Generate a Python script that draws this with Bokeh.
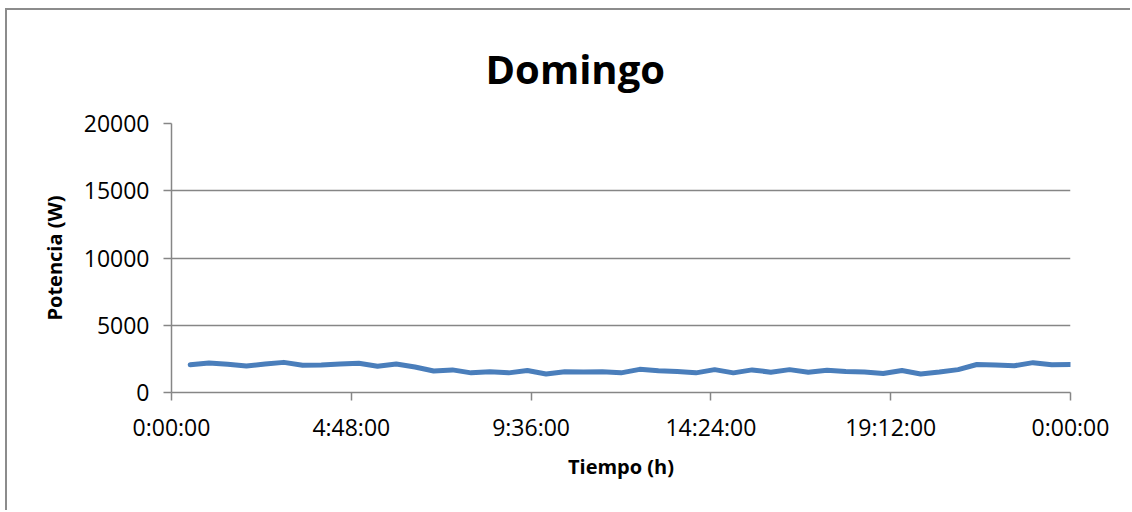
from bokeh.plotting import figure
from bokeh.models import FixedTicker, Range1d
from bokeh.embed import file_html
from bokeh.resources import INLINE

title_text = "Domingo"
x_label = "Tiempo (h)"
y_label = "Potencia (W)"

hours = [0.5, 1.0, 1.5, 2.0, 2.5, 3.0, 3.5, 4.0, 4.5, 5.0, 5.5, 6.0,
         6.5, 7.0, 7.5, 8.0, 8.5, 9.0, 9.5, 10.0, 10.5, 11.0, 11.5, 12.0,
         12.5, 13.0, 13.5, 14.0, 14.5, 15.0, 15.5, 16.0, 16.5, 17.0, 17.5, 18.0,
         18.5, 19.0, 19.5, 20.0, 20.5, 21.0, 21.5, 22.0, 22.5, 23.0, 23.5, 24.0]
power = [2070, 2200, 2100, 1970, 2120, 2240, 2030, 2050, 2120, 2170, 1950, 2120,
         1900, 1600, 1680, 1460, 1550, 1460, 1630, 1380, 1550, 1530, 1550, 1460,
         1720, 1620, 1560, 1460, 1700, 1460, 1680, 1510, 1700, 1510, 1650, 1560,
         1530, 1410, 1630, 1380, 1520, 1700, 2080, 2050, 1990, 2220, 2070, 2090]

x_ticks = [0, 4.8, 9.6, 14.4, 19.2, 24]
x_tick_labels = ["0:00:00", "4:48:00", "9:36:00", "14:24:00", "19:12:00", "0:00:00"]
y_ticks = [0, 5000, 10000, 15000, 20000]

FONT = "Open Sans"
GREY = "#868686"

p = figure(width=1125, height=502, output_backend="svg", toolbar_location=None,
           x_range=Range1d(0, 24), y_range=Range1d(0, 20000),
           min_border_left=164, min_border_right=62, min_border_top=112, min_border_bottom=120)
p.styles = {"border-left": "2px solid #8c8c8c", "border-top": "2px solid #8c8c8c",
            "margin-left": "5px", "margin-top": "8px"}
p.outline_line_color = None
p.background_fill_color = "white"
p.border_fill_color = "white"

p.title.text = title_text
p.title.align = "left"
p.title.offset = 314
p.title.text_font = FONT
p.title.text_font_size = "40px"
p.title.text_font_style = "bold"
p.title.text_color = "black"
p.title.standoff = 56

p.line(hours, power, line_color="#4a7ebb", line_width=5, line_join="round", line_cap="round")

p.xaxis.ticker = FixedTicker(ticks=x_ticks)
p.xaxis.major_label_overrides = {t: lab for t, lab in zip(x_ticks, x_tick_labels)}
p.yaxis.ticker = FixedTicker(ticks=y_ticks)

for ax in (p.xaxis[0], p.yaxis[0]):
    ax.axis_line_color = GREY
    ax.axis_line_width = 1.5
    ax.major_tick_line_color = GREY
    ax.major_tick_line_width = 1.5
    ax.major_tick_out = 8
    ax.major_tick_in = 0
    ax.minor_tick_line_color = None
    ax.major_label_text_font = FONT
    ax.major_label_text_font_size = "23px"
    ax.major_label_text_color = "black"
    ax.axis_label_text_font = FONT
    ax.axis_label_text_font_size = "20px"
    ax.axis_label_text_font_style = "bold"
    ax.axis_label_text_color = "black"

p.xaxis.axis_label = x_label
p.yaxis.axis_label = y_label
p.xaxis.major_label_standoff = 10
p.xaxis.axis_label_standoff = 7
p.yaxis.major_label_standoff = 14
p.yaxis.axis_label_standoff = 13
p.yaxis.major_label_orientation = "horizontal"

p.xgrid.grid_line_color = None
p.ygrid.grid_line_color = GREY
p.ygrid.grid_line_width = 1.5

open("out.html", "w").write(file_html(p, INLINE))
